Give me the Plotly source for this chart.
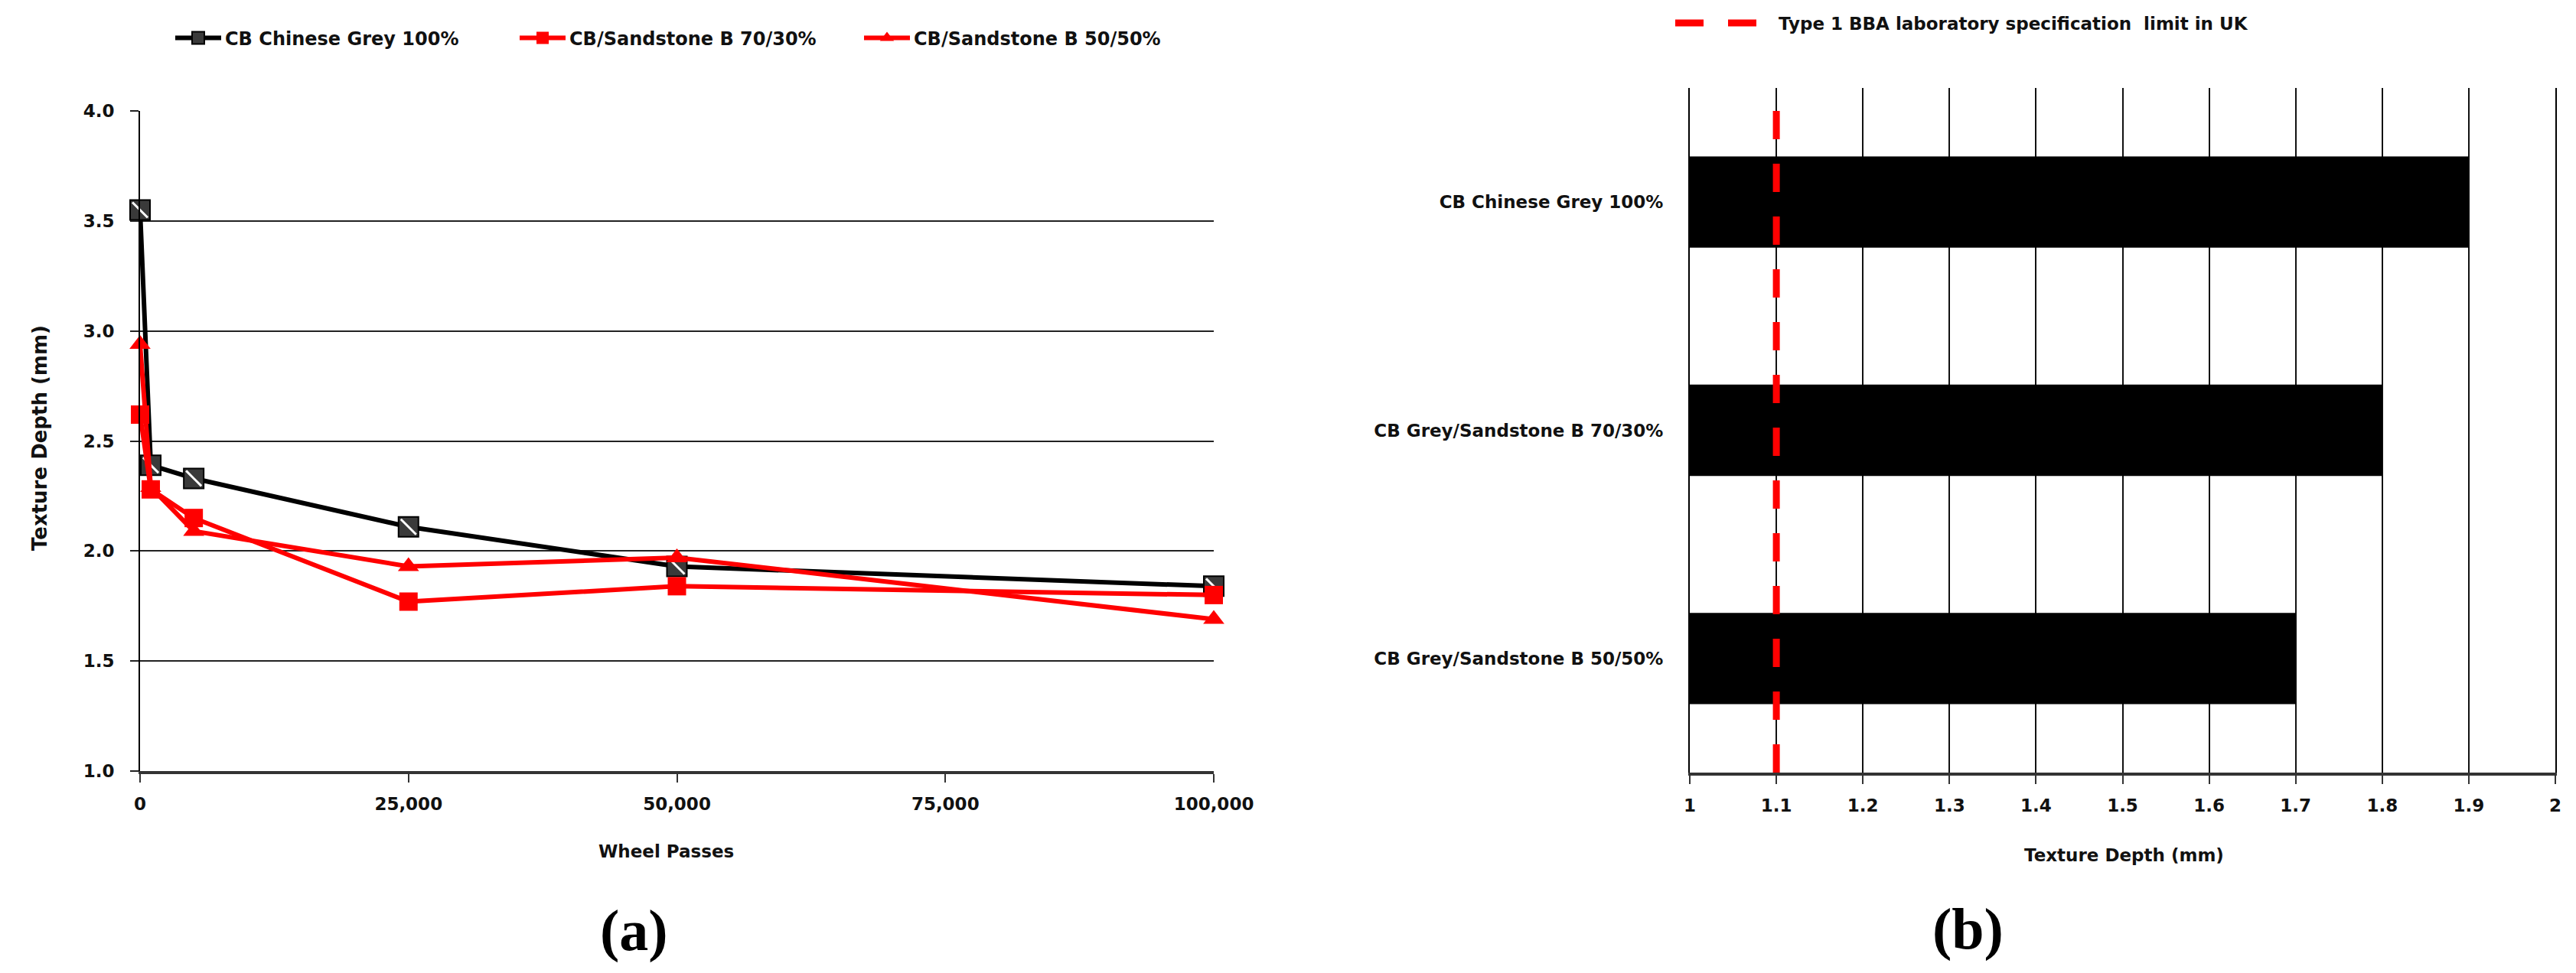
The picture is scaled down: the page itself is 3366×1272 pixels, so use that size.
import plotly.graph_objects as go

# ---------------- data ----------------
passes = [0, 1000, 5000, 25000, 50000, 100000]
grey100 = [3.55, 2.39, 2.33, 2.11, 1.93, 1.84]
sand70 = [2.62, 2.28, 2.15, 1.77, 1.84, 1.80]
sand50 = [2.94, 2.29, 2.09, 1.93, 1.97, 1.69]
series_names = ["CB Chinese Grey 100%", "CB/Sandstone B 70/30%", "CB/Sandstone B 50/50%"]

x_ticks = [0, 25000, 50000, 75000, 100000]

mixes = ["CB Chinese Grey 100%", "CB Grey/Sandstone B 70/30%", "CB Grey/Sandstone B 50/50%"]
texture = [1.9, 1.8, 1.7]
spec_limit = 1.1
spec_name = "Type 1 BBA laboratory specification  limit in UK"

W, H = 3366, 1272
FONT = "DejaVu Sans"
TXT = "#111111"

fig = go.Figure()

# ---------------- left: line chart ----------------
fig.add_trace(go.Scatter(
    x=passes, y=grey100, name=series_names[0], mode="lines+markers",
    line=dict(color="black", width=6),
    marker=dict(symbol="square", size=26, color="#3a3a3a", line=dict(color="black", width=2)),
    cliponaxis=False, legend="legend", xaxis="x", yaxis="y"))
fig.add_trace(go.Scatter(
    x=passes, y=grey100, showlegend=False, mode="markers", hoverinfo="skip",
    marker=dict(symbol="line-nw", size=20, color="white", line=dict(color="white", width=3)),
    cliponaxis=False, xaxis="x", yaxis="y"))
fig.add_trace(go.Scatter(
    x=passes, y=sand70, name=series_names[1], mode="lines+markers",
    line=dict(color="#ff0000", width=6),
    marker=dict(symbol="square", size=24, color="#ff0000"),
    cliponaxis=False, legend="legend", xaxis="x", yaxis="y"))
fig.add_trace(go.Scatter(
    x=passes, y=sand50, name=series_names[2], mode="lines+markers",
    line=dict(color="#ff0000", width=6),
    marker=dict(symbol="triangle-up", size=24, color="#ff0000"),
    cliponaxis=False, legend="legend", xaxis="x", yaxis="y"))

# ---------------- right: bar chart ----------------
fig.add_trace(go.Bar(
    x=texture, y=mixes, orientation="h", marker=dict(color="black", line=dict(width=0)),
    showlegend=False, xaxis="x2", yaxis="y2"))

fig.add_shape(type="line", xref="x2", yref="y2 domain",
              x0=spec_limit, x1=spec_limit, y0=0, y1=1,
              line=dict(color="#ff0000", width=9, dash="37px,32px"),
              showlegend=True, name=spec_name, legend="legend2", layer="above")

tickfont = dict(family=FONT, size=23, color=TXT, weight="bold")
titlefont = dict(family=FONT, size=23, color=TXT, weight="bold")
labelfont = dict(family="Liberation Serif", size=76, color="black", weight="bold")


def ann(text, xp, yp, font, angle=0):
    return dict(text=text, x=xp / W, y=1 - yp / H, xref="paper", yref="paper",
                xanchor="center", yanchor="middle", textangle=angle,
                showarrow=False, font=font)


fig.update_layout(
    template="none",
    width=W, height=H,
    margin=dict(l=0, r=0, t=0, b=0, autoexpand=False),
    paper_bgcolor="white", plot_bgcolor="white",
    font=dict(family=FONT, size=23, color=TXT),
    bargap=0.6,
    xaxis=dict(domain=[175 / W, 1578 / W], range=[0, 100000], tickvals=x_ticks, tickformat=",",
               showgrid=False, zeroline=False, showline=True, linecolor="#333", linewidth=4,
               ticks="outside", ticklen=11, tickwidth=2, tickcolor="#333", automargin=False,
               tickfont=tickfont, ticklabelstandoff=8, anchor="y"),
    yaxis=dict(domain=[1 - 1000 / H, 1 - 137 / H], range=[1, 4], dtick=0.5, tickformat=".1f",
               showgrid=True, gridcolor="#222", gridwidth=2, zeroline=False,
               showline=True, linecolor="black", linewidth=2, automargin=False,
               ticks="outside", ticklen=11, tickwidth=2, tickcolor="#222",
               tickfont=tickfont, ticklabelstandoff=16, anchor="x"),
    xaxis2=dict(domain=[2200 / W, 3331 / W], range=[1, 2], dtick=0.1, tick0=1,
                showgrid=True, gridcolor="#111", gridwidth=2, zeroline=False,
                showline=True, linecolor="#333", linewidth=4, automargin=False,
                ticks="outside", ticklen=11, tickwidth=2, tickcolor="#333",
                tickfont=tickfont, ticklabelstandoff=8, anchor="y2"),
    yaxis2=dict(domain=[1 - 1002 / H, 1 - 107 / H], type="category", categoryarray=mixes,
                autorange="reversed", showgrid=False, zeroline=False,
                showline=True, mirror=True, linecolor="black", linewidth=2, ticks="",
                automargin=False, tickfont=tickfont, ticklabelstandoff=28, anchor="x2"),
    legend=dict(orientation="h", x=216 / W, xanchor="left", y=1 - 42 / H, yanchor="middle",
                font=dict(family=FONT, size=24, color=TXT, weight="bold"),
                itemwidth=60, entrywidth=375, entrywidthmode="pixels",
                bgcolor="rgba(0,0,0,0)"),
    legend2=dict(orientation="h", x=2176 / W, xanchor="left", y=1 - 22 / H, yanchor="middle",
                 font=dict(family=FONT, size=23, color=TXT, weight="bold"),
                 itemwidth=130, bgcolor="rgba(0,0,0,0)"),
    annotations=[
        ann("Wheel Passes", 862, 1105, titlefont),
        ann("Texture Depth (mm)", 44, 565, dict(titlefont, size=26), -90),
        ann("Texture Depth (mm)", 2767, 1110, titlefont),
        ann("(a)", 820, 1208, labelfont),
        ann("(b)", 2563, 1206, labelfont),
    ],
)

fig.write_html("out.html")
